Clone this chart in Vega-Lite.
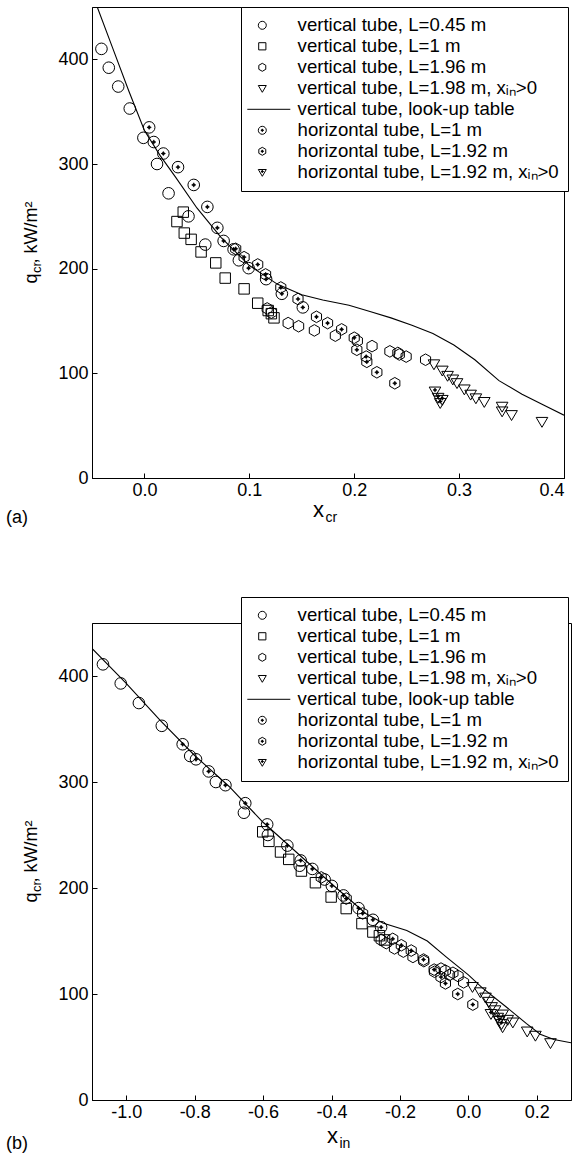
{
  "$schema": "https://vega.github.io/schema/vega-lite/v6.json",
  "padding": {"left": 5, "top": 6, "right": 5, "bottom": 5},
  "background": "white",
  "bounds": "flush",
  "spacing": 145,
  "resolve": {"scale": {"shape": "independent"}, "legend": {"shape": "independent"}},
  "config": {
    "font": "Liberation Sans",
    "view": {"stroke": "black", "strokeWidth": 1},
    "axis": {"labelFont": "Liberation Sans", "labelFontSize": 18, "labelColor": "black", "domainColor": "black", "tickColor": "black", "grid": false, "titleFont": "Liberation Sans", "titleColor": "black", "titleFontWeight": "normal"},
    "legend": {"labelFont": "Liberation Sans", "labelFontSize": 18.6, "labelColor": "black"},
    "title": {"font": "Liberation Sans", "fontSize": 18, "fontWeight": "normal", "color": "black"}
  },
  "datasets": {
    "a": [
      {"x": -0.045, "y": 450, "k": 5}, {"x": -0.03, "y": 410, "k": 5}, {"x": -0.015, "y": 370, "k": 5}, {"x": 0.0, "y": 332, "k": 5}, {"x": 0.015, "y": 308, "k": 5}, {"x": 0.03, "y": 287, "k": 5}, {"x": 0.05, "y": 258, "k": 5}, {"x": 0.073, "y": 230, "k": 5}, {"x": 0.1, "y": 203, "k": 5}, {"x": 0.127, "y": 185, "k": 5}, {"x": 0.15, "y": 175, "k": 5}, {"x": 0.17, "y": 170, "k": 5}, {"x": 0.195, "y": 165, "k": 5}, {"x": 0.215, "y": 159, "k": 5}, {"x": 0.235, "y": 153, "k": 5}, {"x": 0.255, "y": 146, "k": 5}, {"x": 0.275, "y": 138, "k": 5}, {"x": 0.295, "y": 127, "k": 5}, {"x": 0.315, "y": 113, "k": 5}, {"x": 0.338, "y": 93, "k": 5}, {"x": 0.36, "y": 80, "k": 5}, {"x": 0.38, "y": 70, "k": 5}, {"x": 0.4, "y": 60, "k": 5},
      {"x": -0.041, "y": 410, "k": 1}, {"x": -0.034, "y": 392, "k": 1}, {"x": -0.025, "y": 374, "k": 1}, {"x": -0.014, "y": 353, "k": 1}, {"x": -0.001, "y": 325, "k": 1}, {"x": 0.012, "y": 300, "k": 1}, {"x": 0.023, "y": 272, "k": 1}, {"x": 0.042, "y": 250, "k": 1}, {"x": 0.058, "y": 223, "k": 1}, {"x": 0.09, "y": 208, "k": 1},
      {"x": 0.037, "y": 254, "k": 2}, {"x": 0.031, "y": 245, "k": 2}, {"x": 0.038, "y": 234, "k": 2}, {"x": 0.0445, "y": 228, "k": 2}, {"x": 0.054, "y": 216, "k": 2}, {"x": 0.068, "y": 205.5, "k": 2}, {"x": 0.077, "y": 191, "k": 2}, {"x": 0.095, "y": 180.7, "k": 2}, {"x": 0.108, "y": 167, "k": 2}, {"x": 0.118, "y": 160, "k": 2}, {"x": 0.121, "y": 157, "k": 2}, {"x": 0.1235, "y": 153, "k": 2},
      {"x": 0.117, "y": 162, "k": 3}, {"x": 0.121, "y": 158, "k": 3}, {"x": 0.137, "y": 148, "k": 3}, {"x": 0.147, "y": 145, "k": 3}, {"x": 0.162, "y": 141, "k": 3}, {"x": 0.182, "y": 136, "k": 3}, {"x": 0.203, "y": 131, "k": 3}, {"x": 0.217, "y": 126, "k": 3}, {"x": 0.234, "y": 121, "k": 3}, {"x": 0.2416, "y": 119.5, "k": 3}, {"x": 0.243, "y": 118, "k": 3}, {"x": 0.2495, "y": 116, "k": 3}, {"x": 0.268, "y": 113, "k": 3},
      {"x": 0.276, "y": 109, "k": 4}, {"x": 0.284, "y": 103, "k": 4}, {"x": 0.289, "y": 98, "k": 4}, {"x": 0.294, "y": 94.5, "k": 4}, {"x": 0.298, "y": 91, "k": 4}, {"x": 0.305, "y": 85, "k": 4}, {"x": 0.311, "y": 80, "k": 4}, {"x": 0.316, "y": 76.5, "k": 4}, {"x": 0.324, "y": 73, "k": 4}, {"x": 0.341, "y": 68.5, "k": 4}, {"x": 0.341, "y": 64, "k": 4}, {"x": 0.35, "y": 60.5, "k": 4}, {"x": 0.379, "y": 54, "k": 4},
      {"x": 0.0045, "y": 335, "k": 6}, {"x": 0.0089, "y": 321, "k": 6}, {"x": 0.018, "y": 310, "k": 6}, {"x": 0.032, "y": 297, "k": 6}, {"x": 0.047, "y": 280, "k": 6}, {"x": 0.06, "y": 259, "k": 6}, {"x": 0.0695, "y": 239, "k": 6}, {"x": 0.0755, "y": 226.5, "k": 6}, {"x": 0.085, "y": 218.5, "k": 6}, {"x": 0.0993, "y": 200.5, "k": 6}, {"x": 0.116, "y": 190, "k": 6}, {"x": 0.131, "y": 176, "k": 6}, {"x": 0.151, "y": 163, "k": 6},
      {"x": 0.087, "y": 219, "k": 7}, {"x": 0.095, "y": 211, "k": 7}, {"x": 0.108, "y": 204, "k": 7}, {"x": 0.1155, "y": 194.5, "k": 7}, {"x": 0.13, "y": 182, "k": 7}, {"x": 0.1464, "y": 171, "k": 7}, {"x": 0.164, "y": 154, "k": 7}, {"x": 0.1746, "y": 148, "k": 7}, {"x": 0.188, "y": 142, "k": 7}, {"x": 0.2, "y": 134, "k": 7}, {"x": 0.2025, "y": 122.5, "k": 7}, {"x": 0.2114, "y": 116, "k": 7}, {"x": 0.212, "y": 111, "k": 7}, {"x": 0.2216, "y": 101, "k": 7}, {"x": 0.2387, "y": 90.5, "k": 7},
      {"x": 0.277, "y": 83, "k": 8}, {"x": 0.28, "y": 77, "k": 8}, {"x": 0.282, "y": 72, "k": 8}, {"x": 0.284, "y": 75, "k": 8}
    ],
    "b": [
      {"x": -1.1, "y": 426, "k": 5}, {"x": -1.0, "y": 393, "k": 5}, {"x": -0.9, "y": 358, "k": 5}, {"x": -0.8, "y": 325, "k": 5}, {"x": -0.7, "y": 296, "k": 5}, {"x": -0.6, "y": 262, "k": 5}, {"x": -0.5, "y": 233, "k": 5}, {"x": -0.4, "y": 204, "k": 5}, {"x": -0.3, "y": 176, "k": 5}, {"x": -0.25, "y": 167, "k": 5}, {"x": -0.18, "y": 160, "k": 5}, {"x": -0.12, "y": 150, "k": 5}, {"x": -0.065, "y": 135, "k": 5}, {"x": 0.0, "y": 118, "k": 5}, {"x": 0.04, "y": 106, "k": 5}, {"x": 0.11, "y": 88, "k": 5}, {"x": 0.17, "y": 72, "k": 5}, {"x": 0.21, "y": 62, "k": 5}, {"x": 0.25, "y": 57, "k": 5}, {"x": 0.3, "y": 54, "k": 5},
      {"x": -1.068, "y": 411, "k": 1}, {"x": -1.016, "y": 393, "k": 1}, {"x": -0.963, "y": 374.5, "k": 1}, {"x": -0.896, "y": 353, "k": 1}, {"x": -0.813, "y": 324.5, "k": 1}, {"x": -0.738, "y": 300, "k": 1}, {"x": -0.656, "y": 271, "k": 1}, {"x": -0.586, "y": 250, "k": 1}, {"x": -0.493, "y": 221, "k": 1}, {"x": -0.42, "y": 208, "k": 1},
      {"x": -0.601, "y": 253, "k": 2}, {"x": -0.583, "y": 244, "k": 2}, {"x": -0.549, "y": 234, "k": 2}, {"x": -0.525, "y": 227, "k": 2}, {"x": -0.488, "y": 216, "k": 2}, {"x": -0.447, "y": 205, "k": 2}, {"x": -0.401, "y": 191.5, "k": 2}, {"x": -0.357, "y": 180.6, "k": 2}, {"x": -0.311, "y": 166.4, "k": 2}, {"x": -0.279, "y": 158.5, "k": 2}, {"x": -0.26, "y": 155, "k": 2}, {"x": -0.245, "y": 151, "k": 2},
      {"x": -0.255, "y": 151, "k": 3}, {"x": -0.24, "y": 148, "k": 3}, {"x": -0.216, "y": 143, "k": 3}, {"x": -0.19, "y": 140, "k": 3}, {"x": -0.162, "y": 135, "k": 3}, {"x": -0.13, "y": 131, "k": 3}, {"x": -0.099, "y": 121, "k": 3}, {"x": -0.08, "y": 124, "k": 3}, {"x": -0.067, "y": 122, "k": 3}, {"x": -0.055, "y": 118, "k": 3}, {"x": -0.045, "y": 120, "k": 3}, {"x": -0.03, "y": 117, "k": 3}, {"x": -0.014, "y": 111, "k": 3},
      {"x": 0.012, "y": 107, "k": 4}, {"x": 0.035, "y": 102, "k": 4}, {"x": 0.05, "y": 97, "k": 4}, {"x": 0.06, "y": 93, "k": 4}, {"x": 0.068, "y": 88, "k": 4}, {"x": 0.078, "y": 85, "k": 4}, {"x": 0.1, "y": 81, "k": 4}, {"x": 0.115, "y": 76, "k": 4}, {"x": 0.13, "y": 73.5, "k": 4}, {"x": 0.1, "y": 69, "k": 4}, {"x": 0.172, "y": 65, "k": 4}, {"x": 0.196, "y": 61, "k": 4}, {"x": 0.24, "y": 54, "k": 4},
      {"x": -0.835, "y": 335.6, "k": 6}, {"x": -0.796, "y": 321.4, "k": 6}, {"x": -0.759, "y": 310, "k": 6}, {"x": -0.71, "y": 297, "k": 6}, {"x": -0.652, "y": 280, "k": 6}, {"x": -0.588, "y": 260, "k": 6}, {"x": -0.529, "y": 240, "k": 6}, {"x": -0.49, "y": 226, "k": 6}, {"x": -0.456, "y": 218, "k": 6}, {"x": -0.399, "y": 202, "k": 6}, {"x": -0.365, "y": 193, "k": 6}, {"x": -0.321, "y": 181, "k": 6}, {"x": -0.279, "y": 170, "k": 6}, {"x": -0.255, "y": 163, "k": 6},
      {"x": -0.43, "y": 210, "k": 7}, {"x": -0.357, "y": 190, "k": 7}, {"x": -0.309, "y": 176, "k": 7}, {"x": -0.221, "y": 152, "k": 7}, {"x": -0.196, "y": 146, "k": 7}, {"x": -0.167, "y": 141, "k": 7}, {"x": -0.131, "y": 132.5, "k": 7}, {"x": -0.1, "y": 123, "k": 7}, {"x": -0.08, "y": 116, "k": 7}, {"x": -0.067, "y": 110, "k": 7}, {"x": -0.031, "y": 100, "k": 7}, {"x": 0.013, "y": 90, "k": 7},
      {"x": 0.066, "y": 81.5, "k": 8}, {"x": 0.086, "y": 78, "k": 8}, {"x": 0.097, "y": 72, "k": 8}, {"x": 0.09, "y": 75, "k": 8}
    ]
  },
  "vconcat": [
    {
      "width": 472,
      "height": 471,
      "data": {"name": "a"},
      "title": {"text": "(a)", "orient": "bottom", "anchor": "start", "frame": "group", "dx": -86, "offset": -15},
      "layer": [
        {
          "transform": [{"filter": "datum.k == 5"}],
          "mark": {"type": "line", "color": "black", "strokeWidth": 1.1, "clip": true},
          "encoding": {
            "x": {"field": "x", "type": "quantitative", "scale": {"domain": [-0.05, 0.4], "nice": false, "zero": false},
                  "axis": {"title": "x", "titleFontSize": 22, "titleX": 226, "titleY": 38, "titleAlign": "center", "titleBaseline": "alphabetic", "values": [0, 0.1, 0.2, 0.3, 0.4], "format": ".1f", "tickSize": -5, "labelPadding": 8}},
            "y": {"field": "y", "type": "quantitative", "scale": {"domain": [0, 450], "nice": false},
                  "axis": {"title": "q\u00a0\u00a0, kW/m²", "titleFontSize": 18, "titleAngle": -90, "titleAlign": "left", "titleBaseline": "alphabetic", "titleX": -56, "titleY": 276, "values": [0, 100, 200, 300, 400], "tickSize": -5, "labelPadding": 9}}
          }
        },
        {
          "transform": [{"filter": "datum.k != 5"}],
          "mark": {"type": "point", "filled": false, "stroke": "black", "strokeWidth": 1, "size": 135, "opacity": 1},
          "encoding": {
            "x": {"field": "x", "type": "quantitative", "axis": {"orient": "bottom", "title": "cr", "titleFontSize": 14, "titleX": 233, "titleY": 43, "titleAlign": "left", "titleBaseline": "alphabetic", "labels": false, "ticks": false, "domain": false}},
            "y": {"field": "y", "type": "quantitative", "axis": {"orient": "left", "title": "cr", "titleFontSize": 13, "titleAngle": -90, "titleAlign": "left", "titleBaseline": "alphabetic", "titleX": -52, "titleY": 265.5, "labels": false, "ticks": false, "domain": false}},
            "shape": {"field": "k", "type": "nominal",
              "scale": {"domain": [1, 2, 3, 4, 5, 6, 7, 8], "range": [
                "M1,0A1,1,0,1,1,-1,0A1,1,0,1,1,1,0Z",
                "M-0.9,-0.9H0.9V0.9H-0.9Z",
                "M0,-1L0.87,-0.5L0.87,0.5L0,1L-0.87,0.5L-0.87,-0.5Z",
                "M-1,-0.7L1,-0.7L0,1Z",
                "M-3.75,0L7,0",
                "M1,0A1,1,0,1,1,-1,0A1,1,0,1,1,1,0Z M-0.38,0H0.38M0,-0.38V0.38M-0.16,-0.16H0.16V0.16H-0.16Z",
                "M0,-1L0.87,-0.5L0.87,0.5L0,1L-0.87,0.5L-0.87,-0.5Z M-0.38,0H0.38M0,-0.38V0.38M-0.16,-0.16H0.16V0.16H-0.16Z",
                "M-1,-0.7L1,-0.7L0,1Z M-0.35,-0.2H0.35M0,-0.55V0.15M-0.15,-0.35H0.15V-0.05H-0.15Z"
              ]},
              "legend": {"title": null, "orient": "none", "legendX": 149, "legendY": 0, "symbolSize": 64, "symbolStrokeWidth": 1, "symbolStrokeColor": "black", "labelOffset": 26, "symbolOffset": 3, "padding": 9, "rowPadding": 2, "strokeColor": "black", "fillColor": "white", "labelLimit": 400,
                "labelExpr": "['', 'vertical tube, L=0.45 m', 'vertical tube, L=1 m', 'vertical tube, L=1.96 m', 'vertical tube, L=1.98 m, xᵢₙ>0', 'vertical tube, look-up table', 'horizontal tube, L=1 m', 'horizontal tube, L=1.92 m', 'horizontal tube, L=1.92 m, xᵢₙ>0'][datum.value]"}
            }
          }
        }
      ],
      "resolve": {"axis": {"x": "independent", "y": "independent"}}
    },
    {
      "width": 479,
      "height": 477,
      "data": {"name": "b"},
      "title": {"text": "(b)", "orient": "bottom", "anchor": "start", "frame": "group", "dx": -86, "offset": -15},
      "layer": [
        {
          "transform": [{"filter": "datum.k == 5"}],
          "mark": {"type": "line", "color": "black", "strokeWidth": 1.1, "clip": true},
          "encoding": {
            "x": {"field": "x", "type": "quantitative", "scale": {"domain": [-1.1, 0.3], "nice": false, "zero": false},
                  "axis": {"title": "x", "titleFontSize": 22, "titleX": 240, "titleY": 42, "titleAlign": "center", "titleBaseline": "alphabetic", "values": [-1.0, -0.8, -0.6, -0.4, -0.2, 0, 0.2], "labelExpr": "replace(format(datum.value, '.1f'), '\u2212', '-')", "tickSize": -5, "labelPadding": 8}},
            "y": {"field": "y", "type": "quantitative", "scale": {"domain": [0, 450], "nice": false},
                  "axis": {"title": "q\u00a0\u00a0, kW/m²", "titleFontSize": 18, "titleAngle": -90, "titleAlign": "left", "titleBaseline": "alphabetic", "titleX": -56, "titleY": 279, "values": [0, 100, 200, 300, 400], "tickSize": -5, "labelPadding": 9}}
          }
        },
        {
          "transform": [{"filter": "datum.k != 5"}],
          "mark": {"type": "point", "filled": false, "stroke": "black", "strokeWidth": 1, "size": 135, "opacity": 1},
          "encoding": {
            "x": {"field": "x", "type": "quantitative", "axis": {"orient": "bottom", "title": "in", "titleFontSize": 14, "titleX": 247, "titleY": 47, "titleAlign": "left", "titleBaseline": "alphabetic", "labels": false, "ticks": false, "domain": false}},
            "y": {"field": "y", "type": "quantitative", "axis": {"orient": "left", "title": "cr", "titleFontSize": 13, "titleAngle": -90, "titleAlign": "left", "titleBaseline": "alphabetic", "titleX": -52, "titleY": 268.5, "labels": false, "ticks": false, "domain": false}},
            "shape": {"field": "k", "type": "nominal",
              "scale": {"domain": [1, 2, 3, 4, 5, 6, 7, 8], "range": [
                "M1,0A1,1,0,1,1,-1,0A1,1,0,1,1,1,0Z",
                "M-0.9,-0.9H0.9V0.9H-0.9Z",
                "M0,-1L0.87,-0.5L0.87,0.5L0,1L-0.87,0.5L-0.87,-0.5Z",
                "M-1,-0.7L1,-0.7L0,1Z",
                "M-3.75,0L7,0",
                "M1,0A1,1,0,1,1,-1,0A1,1,0,1,1,1,0Z M-0.38,0H0.38M0,-0.38V0.38M-0.16,-0.16H0.16V0.16H-0.16Z",
                "M0,-1L0.87,-0.5L0.87,0.5L0,1L-0.87,0.5L-0.87,-0.5Z M-0.38,0H0.38M0,-0.38V0.38M-0.16,-0.16H0.16V0.16H-0.16Z",
                "M-1,-0.7L1,-0.7L0,1Z M-0.35,-0.2H0.35M0,-0.55V0.15M-0.15,-0.35H0.15V-0.05H-0.15Z"
              ]},
              "legend": {"title": null, "orient": "none", "legendX": 149, "legendY": -26, "symbolSize": 64, "symbolStrokeWidth": 1, "symbolStrokeColor": "black", "labelOffset": 26, "symbolOffset": 3, "padding": 9, "rowPadding": 2, "strokeColor": "black", "fillColor": "white", "labelLimit": 400,
                "labelExpr": "['', 'vertical tube, L=0.45 m', 'vertical tube, L=1 m', 'vertical tube, L=1.96 m', 'vertical tube, L=1.98 m, xᵢₙ>0', 'vertical tube, look-up table', 'horizontal tube, L=1 m', 'horizontal tube, L=1.92 m', 'horizontal tube, L=1.92 m, xᵢₙ>0'][datum.value]"}
            }
          }
        }
      ],
      "resolve": {"axis": {"x": "independent", "y": "independent"}}
    }
  ]
}
